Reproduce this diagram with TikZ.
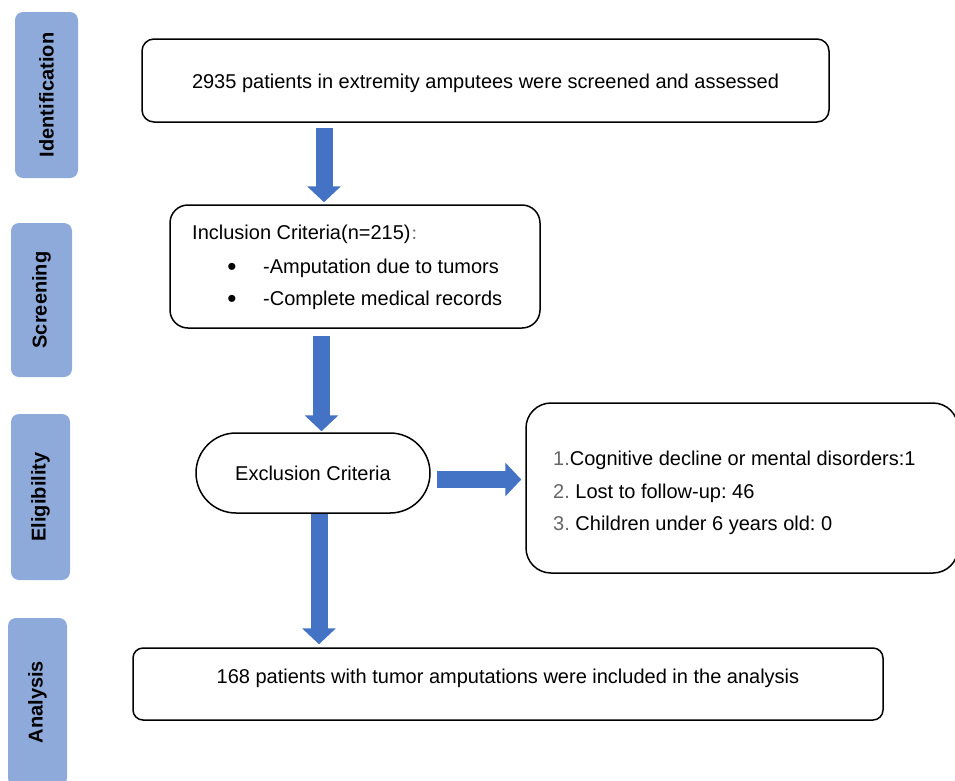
\documentclass[tikz,border=0pt]{standalone}
\usepackage{fontspec}
\setmainfont{Liberation Sans}
\newfontfamily\cjk{Noto Sans CJK SC}
\usetikzlibrary{arrows.meta,calc}
\definecolor{barblue}{HTML}{8EAADB}
\definecolor{arrblue}{HTML}{4472C4}
\definecolor{numgray}{HTML}{666666}
\frenchspacing
\begin{document}
\begin{tikzpicture}[x=1pt,y=-1pt,
  sidebar/.style={fill=barblue, draw=none, rounded corners=8pt, rotate=90,
    font=\fontsize{20}{24}\selectfont\bfseries, inner sep=0pt},
  box/.style={draw, line width=1.5pt, inner sep=0pt},
  txt/.style={font=\fontsize{20}{24}\selectfont, inner sep=0pt},
  bul/.style={font=\fontsize{26}{28}\selectfont, inner sep=0pt},
  bigarrow/.style={arrblue, line width=17pt, -{Triangle[length=16pt,width=33pt]}}]
\useasboundingbox (0,0) rectangle (955,780);

% side bars
\node[sidebar, minimum width=166pt, minimum height=63pt] (s1) at (46.5,95) {Identification};
\node[sidebar, minimum width=154pt, minimum height=61pt] (s2) at (41.5,300) {Screening};
\node[sidebar, minimum width=166pt, minimum height=59pt] (s3) at (40.5,497) {Eligibility};
\node[sidebar, minimum width=168pt, minimum height=59pt] (s4) at (37.5,702) {Analysis};

% boxes
\node[box, rounded corners=12pt, minimum width=687pt, minimum height=83pt] (b1) at (485.5,80.5) {};
\node[box, rounded corners=18pt, minimum width=370pt, minimum height=123pt] (b2) at (355,266.5) {};
\node[box, rounded corners=40pt, minimum width=234pt, minimum height=80pt] (ex) at (313,473) {};
\node[box, rounded corners=25pt, minimum width=432pt, minimum height=170pt] (b3) at (742,488) {};
\node[box, rounded corners=10pt, minimum width=750pt, minimum height=72pt] (b4) at (508,684) {};

% texts
\node[txt, anchor=base] (t1) at (485.5,88) {2935 patients in extremity amputees were screened and assessed};
\node[txt, anchor=base west] (t2) at (192,239) {Inclusion Criteria(n=215){\cjk\fontsize{15}{18}\selectfont\color{numgray}：}};
\node[bul, anchor=base] (bu1) at (232,275) {•};
\node[txt, anchor=base west] (t2a) at (263,273) {-Amputation due to tumors};
\node[bul, anchor=base] (bu2) at (232,307) {•};
\node[txt, anchor=base west] (t2b) at (263,305) {-Complete medical records};
\node[txt] (tex) at (313,473) {Exclusion Criteria};
\node[txt, anchor=base west] (t3a) at (553,465) {{\color{numgray}1.}Cognitive decline or mental disorders:1};
\node[txt, anchor=base west] (t3b) at (553,498) {{\color{numgray}2.} Lost to follow-up: 46};
\node[txt, anchor=base west] (t3c) at (553,530) {{\color{numgray}3.} Children under 6 years old: 0};
\node[txt, anchor=base] (t4) at (508,683) {168 patients with tumor amputations were included in the analysis};

% arrows
\coordinate (a1) at (324,0);
\coordinate (a2) at (321.5,0);
\coordinate (a3) at (0,479.5);
\coordinate (a4) at (319,0);
\draw[bigarrow, shorten <=5pt, shorten >=2pt] (b1.south -| a1) -- (b2.north -| a1);
\draw[bigarrow, shorten <=7pt, shorten >=1pt] (b2.south -| a2) -- (ex.north -| a2);
\draw[bigarrow, shorten <=6pt, shorten >=4pt] (ex.east |- a3) -- (b3.west |- a3);
\draw[bigarrow, shorten <=0pt, shorten >=3pt] (ex.south -| a4) -- (b4.north -| a4);
\end{tikzpicture}
\end{document}
